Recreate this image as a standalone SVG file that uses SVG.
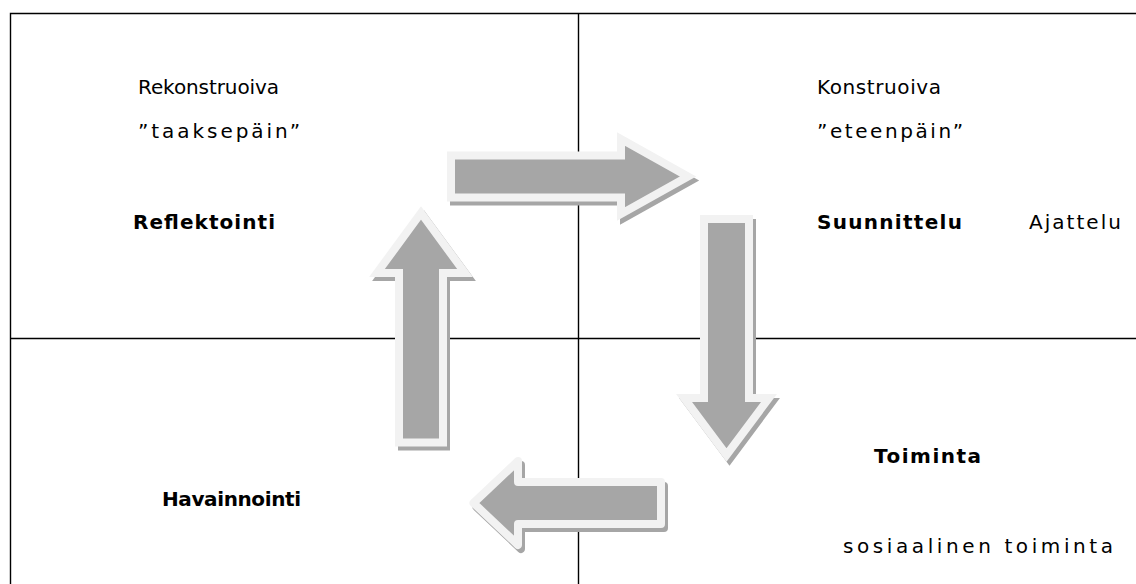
<svg xmlns="http://www.w3.org/2000/svg" width="1136" height="584" viewBox="0 0 1136 584">
<style>
.t{font-family:"DejaVu Sans",sans-serif;font-size:20px;fill:#000}
.b{font-weight:bold}
.ln{stroke:#000;stroke-width:1.4;fill:none}
.arr{fill:#a6a6a6;stroke:#f2f2f2;stroke-width:8;stroke-linejoin:miter}
.sh{fill:#a6a6a6;stroke:#a6a6a6;stroke-width:8}
</style>
<rect width="1136" height="584" fill="#fff"/>
<g id="grid">
<path class="ln" d="M10.5,584 V13.5 H1136 M578.5,13.5 V584 M10.5,338.5 H1136"/>
</g>
<g id="connectors">
<g id="arrow-right">
<polygon class="sh" transform="translate(3,4)" points="451,155.5 621,155.5 621,139 688,176.5 621,214 621,197.5 451,197.5"/>
<polygon class="arr" points="451,155.5 621,155.5 621,139 688,176.5 621,214 621,197.5 451,197.5"/>
</g>
<g id="arrow-down">
<polygon class="sh" transform="translate(3,4)" points="704,219 749,219 749,398 769,398 726.5,455 684,398 704,398"/>
<polygon class="arr" points="704,219 749,219 749,398 769,398 726.5,455 684,398 704,398"/>
</g>
<g id="arrow-left">
<polygon class="sh" style="stroke-linejoin:round" transform="translate(3,4)" points="661,482 518,482 518,461 473.5,503 518,545 518,524 661,524"/>
<polygon class="arr" style="stroke-linejoin:round" points="661,482 518,482 518,461 473.5,503 518,545 518,524 661,524"/>
</g>
<g id="arrow-up">
<polygon class="sh" transform="translate(3,4)" points="399,442.5 399,273 377,273 421,213 465,273 443,273 443,442.5"/>
<polygon class="arr" points="399,442.5 399,273 377,273 421,213 465,273 443,273 443,442.5"/>
</g>
</g>
<g id="reflektointi">
<text class="t" x="138" y="94" textLength="141" lengthAdjust="spacing">Rekonstruoiva</text>
<text class="t" x="138" y="138" textLength="162" lengthAdjust="spacing">”taaksepäin”</text>
<text class="t b" x="133" y="229" textLength="142" lengthAdjust="spacing">Reflektointi</text>
</g>
<g id="suunnittelu">
<text class="t" x="817" y="94" textLength="124" lengthAdjust="spacing">Konstruoiva</text>
<text class="t" x="817" y="138" textLength="146" lengthAdjust="spacing">”eteenpäin”</text>
<text class="t b" x="817" y="229" textLength="145" lengthAdjust="spacing">Suunnittelu</text>
<text class="t" x="1029" y="229" textLength="92" lengthAdjust="spacing">Ajattelu</text>
</g>
<g id="toiminta">
<text class="t b" x="874" y="463" textLength="107" lengthAdjust="spacing">Toiminta</text>
<text class="t" x="843" y="553" textLength="270" lengthAdjust="spacing">sosiaalinen toiminta</text>
</g>
<g id="havainnointi">
<text class="t b" x="162" y="506" textLength="139" lengthAdjust="spacing">Havainnointi</text>
</g>
</svg>
